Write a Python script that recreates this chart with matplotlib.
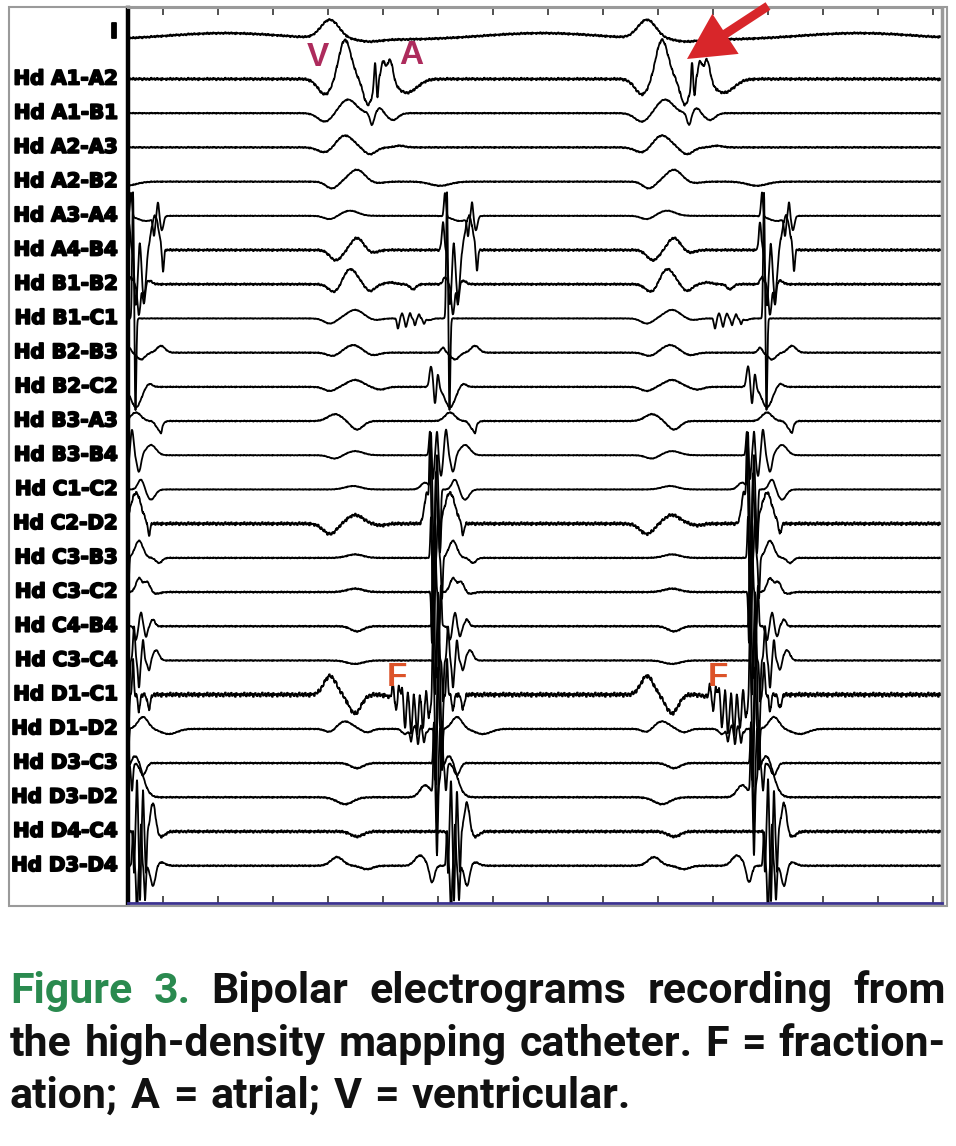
import numpy as np
import matplotlib
matplotlib.use("Agg")
import matplotlib.pyplot as plt
import matplotlib.patheffects as pe
from matplotlib import font_manager
from matplotlib.patches import Rectangle, FancyArrow

# recording at 550 Hz, one sample per screen column; V = far-field ventricular beat
BEAT_V = [-97, 217, 534, 851]
N_SAMPLES = 814
TICKS = np.arange(35, N_SAMPLES, 55)  # 100 ms grid

CHANNELS = ["I", "Hd A1-A2", "Hd A1-B1", "Hd A2-A3", "Hd A2-B2", "Hd A3-A4",
            "Hd A4-B4", "Hd B1-B2", "Hd B1-C1", "Hd B2-B3", "Hd B2-C2", "Hd B3-A3",
            "Hd B3-B4", "Hd C1-C2", "Hd C2-D2", "Hd C3-B3", "Hd C3-C2", "Hd C4-B4",
            "Hd C3-C4", "Hd D1-C1", "Hd D1-D2", "Hd D3-C3", "Hd D3-D2", "Hd D4-C4",
            "Hd D3-D4"]

# deflections of each beat: (samples after V, amplitude in trace spacings, width in samples)
EV_I = [(-120, 0.2, 60), (-15, 0.55, 9), (25, -0.06, 10)]
EV_A1A2 = [(-20, -0.45, 7), (0, 1.15, 6), (23, -0.75, 4.5), (30, 0.7, 0.9), (32.5, -0.45, 0.8),
           (38, 0.5, 2.0), (45, 0.65, 3.0), (62, -0.4, 10)]
EV_A1B1 = [(-20, -0.25, 7), (3, 0.4, 8), (27, -0.35, 2), (35, 0.15, 3), (48, -0.2, 5)]
EV_A2A3 = [(-20, -0.15, 7), (0, 0.35, 8), (25, -0.2, 6), (55, 0.05, 5)]
EV_A2B2 = [(-13, -0.2, 6), (12, 0.35, 8), (30, -0.05, 8), (95, -0.12, 10)]
EV_A3A4 = [(-15, -0.1, 6), (5, 0.15, 8), (100, 0.7, 1.0), (115, -0.15, 8),
           (123, -0.5, 1), (127, 0.45, 1), (131, -0.4, 1.5)]
EV_A4B4 = [(-9, -0.3, 6), (12, 0.35, 6), (28, -0.08, 5), (98, 0.8, 1.2), (105, -1.6, 1.5),
           (109, 0.4, 1), (113, -1.4, 2), (124, 1.0, 3.5), (132, -0.7, 0.9)]
EV_B1B2 = [(-10, -0.25, 6), (5, 0.45, 7), (25, -0.2, 5), (45, 0.05, 5), (68, -0.15, 3),
           (100, 0.2, 2), (108, -0.9, 1.5), (113, -0.6, 1.2), (118, 0.1, 3)]
EV_B1C1 = [(-15, -0.15, 6), (10, 0.25, 8), (30, -0.05, 6),
           (53, -0.3, 1), (57, 0.15, 1), (61, -0.25, 1), (65, 0.15, 1), (70, -0.2, 1),
           (74, 0.12, 1), (79, -0.15, 1), (84, -0.05, 3), (102, 3.7, 0.8), (104.5, -2.7, 0.8)]
EV_B2B3 = [(-12, -0.1, 6), (8, 0.22, 8), (28, -0.08, 6), (98, 0.15, 2), (110, -0.2, 4),
           (130, 0.2, 4)]
EV_B2C2 = [(-15, -0.12, 6), (10, 0.2, 8), (35, -0.08, 6), (86, 0.6, 1.5), (90, -0.5, 1),
           (93, 0.4, 1), (105, -0.6, 5), (118, 0.1, 3)]
EV_B3A3 = [(-10, 0.2, 7), (12, -0.25, 6), (105, 0.25, 5), (128, -0.25, 3), (130, -0.15, 1)]
EV_B3B4 = [(-10, -0.1, 6), (10, 0.12, 8), (85, 0.7, 1), (88, -0.7, 1), (92, 0.7, 1),
           (96, -0.6, 1.5), (101, 0.75, 1.5), (108, -0.5, 2), (120, 0.3, 5)]
EV_C1C2 = [(8, 0.1, 8), (80, 0.2, 4), (86, 1.6, 0.7), (89, -2.2, 0.8), (92, 1.0, 0.7),
           (95, -1.8, 0.8), (110, 0.3, 3), (120, -0.3, 4)]
EV_C2D2 = [(-15, -0.3, 7), (10, 0.25, 8), (35, -0.05, 6), (82, 0.9, 2.5), (85, 2.0, 0.7),
           (88, -2.6, 0.8), (91, 1.5, 0.7), (95, -1.0, 0.8), (105, 0.9, 5), (118, -0.35, 1.2)]
EV_C3B3 = [(10, 0.1, 8), (86, 1.2, 0.7), (89, -2.5, 0.8), (93, 1.5, 0.7), (97, -1.2, 0.8),
           (108, 0.5, 4), (128, -0.15, 3)]
EV_C3C2 = [(10, 0.1, 8), (87, -1.5, 0.7), (90, 2.0, 0.8), (94, -1.5, 0.7), (108, 0.4, 3),
           (116, 0.3, 3), (125, -0.05, 4)]
EV_C4B4 = [(12, -0.15, 6), (88, 2.5, 0.7), (91, -1.5, 0.8), (96, 1.2, 0.7), (105, -0.4, 1.5),
           (110, 0.4, 1.5), (115, -0.3, 1.5), (122, 0.2, 2)]
EV_C3C4 = [(10, -0.1, 8), (90, -1.0, 0.7), (93, 2.0, 0.8), (98, -1.2, 0.7), (103, 1.0, 1),
           (108, -0.8, 1), (112, 0.6, 1), (118, -0.3, 1.5), (125, 0.3, 3)]
EV_D1C1 = [(-15, 0.55, 6), (10, -0.55, 6), (48, 0.4, 1), (51, -0.3, 1), (54, 0.45, 1),
           (70, -0.55, 12), (57, 0.5, 1), (60, -0.55, 1), (63, 0.55, 1), (66, -0.6, 1),
           (69, 0.55, 1), (72, -0.6, 1), (75, 0.5, 1), (78, -0.55, 1), (81, 0.45, 1),
           (84, -0.4, 1), (88, 2.2, 0.7), (91, -2.5, 0.8), (94, 2.0, 0.7), (97, -1.5, 0.8),
           (102, 1.0, 0.8), (108, -0.5, 1), (118, -0.4, 1.5)]
EV_D1D2 = [(-15, -0.1, 5), (0, 0.22, 7), (22, -0.1, 5), (60, -0.15, 3), (66, -0.35, 1),
           (70, 0.1, 1), (73, -0.45, 1), (76, 0.1, 1), (79, -0.4, 1), (82, -0.1, 1),
           (90, -1.5, 0.7), (93, 1.8, 0.8), (97, -1.2, 0.7), (112, 0.35, 5), (138, -0.15, 8)]
EV_D3C3 = [(12, -0.15, 6), (89, 1.2, 0.7), (92, -1.8, 0.8), (95, 1.0, 0.7), (101, -0.8, 1),
           (112, -0.35, 3)]
EV_D3D2 = [(0, -0.2, 8), (80, 0.35, 5), (89, 1.8, 0.7), (92, -2.0, 0.8), (97, 1.5, 0.7),
           (104, 1.2, 7)]
EV_D4C4 = [(12, -0.15, 6), (103, -1.2, 0.7), (106, 1.5, 0.8), (109, -2.0, 0.8), (112, 1.2, 0.7),
           (115, -1.2, 0.8), (122, 0.85, 2.5), (130, -0.15, 4)]
EV_D3D4 = [(-8, 0.25, 6), (22, -0.1, 6), (75, 0.3, 5), (87, -0.5, 2.5), (102, 1.0, 0.8),
           (106, -1.5, 0.8), (110, 1.2, 0.8), (114, -1.0, 0.8), (122, -0.6, 2.5), (130, 0.1, 4)]

CHANNEL_EVENTS = [EV_I, EV_A1A2, EV_A1B1, EV_A2A3, EV_A2B2, EV_A3A4, EV_A4B4, EV_B1B2,
                  EV_B1C1, EV_B2B3, EV_B2C2, EV_B3A3, EV_B3B4, EV_C1C2, EV_C2D2, EV_C3B3,
                  EV_C3C2, EV_C4B4, EV_C3C4, EV_D1C1, EV_D1D2, EV_D3C3, EV_D3D2, EV_D4C4,
                  EV_D3D4]

# baseline roughness of each channel
NOISE = [0.03, 0.04, 0.015, 0.02, 0.015, 0.01, 0.035, 0.03, 0.01, 0.015, 0.015, 0.015, 0.01,
         0.01, 0.05, 0.015, 0.02, 0.02, 0.015, 0.07, 0.015, 0.02, 0.02, 0.04, 0.02]
JITTER = [0.3, -0.8, 0.5, 0.1, -0.4, 0.9, -0.2, -0.7, 0.6, 0.0, -0.5, 0.8, -0.1, 0.4, -0.9,
          0.2, 0.7, -0.3, -0.6, 0.5, 0.1, -0.8, 0.3, 0.9, -0.4, -0.1, 0.6, -0.7, 0.2, 0.8,
          -0.5, 0.0, 0.4, -0.9, 0.7, -0.2, 0.1]

CAPTION_1 = ["Bipolar", "electrograms", "recording", "from"]
CAPTION_2 = ["the", "high-density", "mapping", "catheter.", "F", "=", "fraction-"]
CAPTION_3 = ["ation;", "A", "=", "atrial;", "V", "=", "ventricular."]

W, H = 956, 1146
t = np.arange(0, N_SAMPLES + 0.25, 0.25)


def build_trace(events, noise):
    y = np.zeros_like(t)
    for v in BEAT_V:
        for off, amp, sig in events:
            y += amp * np.exp(-0.5 * ((t - v - off) / sig) ** 2)
    jit = np.array(JITTER)[np.floor(t).astype(int) % len(JITTER)]
    return y + noise * jit


fig = plt.figure(figsize=(W / 100, H / 100), dpi=100)
fig.patch.set_facecolor("white")

# trace panel, plot area 128..942 px wide, 8..903 px tall
left, right, top, bottom = 128, 942, 8, 903
ax = fig.add_axes([left / W, 1 - bottom / H, (right - left) / W, (bottom - top) / H])
offsets = -np.arange(len(CHANNELS), dtype=float)
offsets[0] += 0.14
for k, (ev, nz) in enumerate(zip(CHANNEL_EVENTS, NOISE)):
    ax.plot(t, build_trace(ev, nz) + offsets[k], color="black", lw=1.3)
ax.set_xlim(0, N_SAMPLES)
ax.set_ylim(-25.09, 1.076)
ax.set_xticks(TICKS)
ax.set_yticks([])
ax.tick_params(axis="x", which="both", top=True, bottom=True, direction="in", length=5,
               width=1.1, labelbottom=False, color="#222222")
ax.spines["left"].set_linewidth(3.2)
ax.spines["left"].set_color("black")
ax.spines["bottom"].set_color("#3b3290")
ax.spines["bottom"].set_linewidth(2)
ax.spines["top"].set_color("#9a9a9a")
ax.spines["top"].set_linewidth(1.5)
ax.spines["right"].set_color("#9a9a9a")
ax.spines["right"].set_linewidth(2.5)

# overlay in pixel coordinates for labels, frame and caption
ov = fig.add_axes([0, 0, 1, 1], zorder=5)
ov.set_xlim(0, W)
ov.set_ylim(H, 0)
ov.axis("off")
ov.add_patch(Rectangle((9, 7), 938, 899, fill=False, ec="#9a9a9a", lw=1.5))

heavy = [pe.withStroke(linewidth=1.3, foreground="black")]
for k, name in enumerate(CHANNELS):
    yy = 32 if k == 0 else 44.8 + 34.2 * k
    ov.text(118, yy, name, ha="right", va="center", fontsize=14.3, fontweight="bold",
            family="DejaVu Sans", color="black", path_effects=heavy)

mark = dict(fontsize=24, fontweight="bold", family="Liberation Sans", ha="center", va="center")
ov.text(318, 57, "V", color="#ad2b5c", **mark)
ov.text(411, 56, "A", color="#ad2b5c", **mark)
ov.text(397, 677, "F", color="#dc5329", **mark)
ov.text(718, 677, "F", color="#dc5329", **mark)

ov.add_patch(FancyArrow(768, 6, 687 - 768, 59 - 6, width=9, head_width=48, head_length=46,
                        length_includes_head=True, color="#d8262a", lw=0, clip_on=False))

# caption, justified like the journal layout
avail = {f.name for f in font_manager.fontManager.ttflist}
cap_font = next((f for f in ["Roboto", "Liberation Sans"] if f in avail), "DejaVu Sans")
renderer = fig.canvas.get_renderer()


def place_line(words, colors, y, size, justify):
    objs = [ov.text(0, y, w, color=c, fontsize=size, fontweight="bold", family=cap_font,
                    va="baseline", ha="left") for w, c in zip(words, colors)]
    widths = [o.get_window_extent(renderer).width for o in objs]
    if justify:
        gap = (936 - sum(widths)) / (len(words) - 1)
    else:
        gap = size * 0.42
    x = 10
    for o, wdt in zip(objs, widths):
        o.set_x(x)
        x += wdt + gap
    return objs


size = 28
probe = [ov.text(0, 0, w, fontsize=size, fontweight="bold", family=cap_font) for w in CAPTION_2]
natural = sum(p.get_window_extent(renderer).width for p in probe)
for p in probe:
    p.remove()
size *= (936 - 6 * 13) / natural

line1 = ["Figure", "3."] + CAPTION_1
place_line(line1, ["#2a8a4f", "#2a8a4f"] + ["#111111"] * 4, 1003, size, True)
place_line(CAPTION_2, ["#111111"] * len(CAPTION_2), 1056, size, True)
place_line(CAPTION_3, ["#111111"] * len(CAPTION_3), 1108, size, False)

fig.savefig("out.png", dpi=100, facecolor="white")
